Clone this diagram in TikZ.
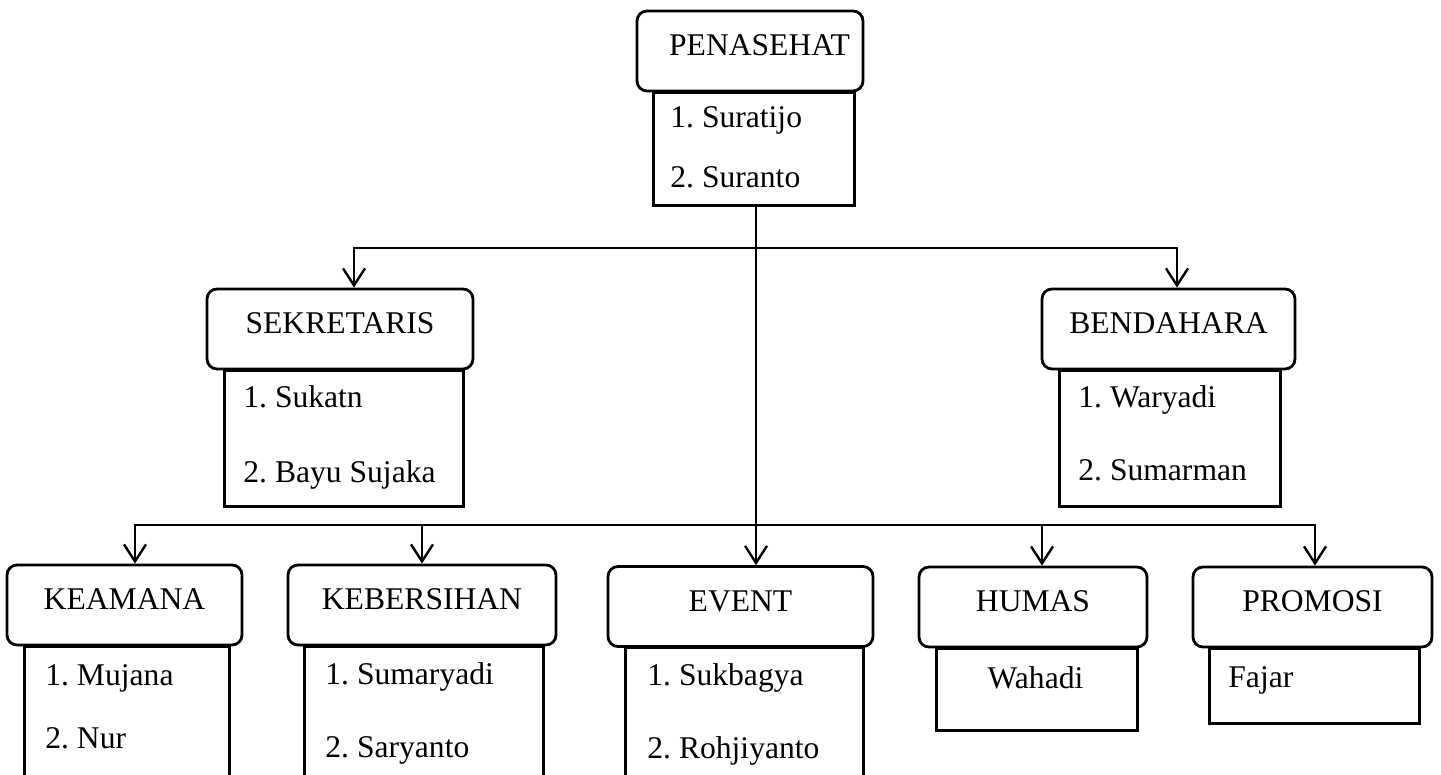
\documentclass[tikz,border=0pt]{standalone}
\usepackage{fontspec}
\setmainfont{Liberation Serif}
\frenchspacing
\usetikzlibrary{arrows.meta,positioning}
\tikzset{
  head/.style={draw,line width=1.4pt,rounded corners=5pt,inner sep=0pt,minimum height=40pt,
    text height=10.5pt,text depth=6pt,font=\fontsize{15.8}{18}\selectfont},
  body/.style={draw,line width=1.4pt,inner sep=0pt,anchor=north west},
  member/.style={anchor=base west,inner sep=0pt,font=\fontsize{15.8}{18}\selectfont},
  link/.style={line width=1.2pt},
  arr/.style={link,-{Straight Barb[length=8.5pt,width=11pt]}}
}

\begin{document}
\begin{tikzpicture}[x=0.5pt,y=-0.5pt]
  \clip (0,0) rectangle (1441,775);
  % bodies
  \node[body,minimum width=100.5pt,minimum height=56.5pt] (penb) at (652,91) {};
  \node[body,minimum width=119.5pt,minimum height=68pt] (sekb) at (223,369) {};
  \node[body,minimum width=110.5pt,minimum height=68pt] (benb) at (1058,369) {};
  \node[body,minimum width=102.5pt,minimum height=80pt] (keab) at (23,645) {};
  \node[body,minimum width=119.5pt,minimum height=80pt] (kebb) at (303,645) {};
  \node[body,minimum width=119pt,minimum height=80pt] (evb) at (624,646) {};
  \node[body,minimum width=100.5pt,minimum height=41pt] (humb) at (935,647) {};
  \node[body,minimum width=105pt,minimum height=37.5pt] (prob) at (1208,647) {};

  % headers
  \node[head,fill=white,inner xsep=6.5pt,text width=100pt,align=flush right] (pen) at (750,51) {PENASEHAT};
  \node[head,fill=white,minimum width=133pt] (sek) at (340,329) {SEKRETARIS};
  \node[head,fill=white,minimum width=126.5pt] (ben) at (1168.5,329) {BENDAHARA};
  \node[head,fill=white,minimum width=117.5pt] (kea) at (124.5,605) {KEAMANA};
  \node[head,fill=white,minimum width=134pt] (keb) at (422,605) {KEBERSIHAN};
  \node[head,fill=white,minimum width=132.5pt] (ev) at (740.5,606.5) {EVENT};
  \node[head,fill=white,minimum width=114pt] (hum) at (1033,607) {HUMAS};
  \node[head,fill=white,minimum width=119.5pt] (pro) at (1312.5,607) {PROMOSI};

  % members
  \node[member] (pen1) at (670,128) {1. Suratijo};
  \node[member] (pen2) at (670,188) {2. Suranto};
  \node[member] (sek1) at (243,408) {1. Sukatn};
  \node[member] (sek2) at (243,482) {2. Bayu Sujaka};
  \node[member] (ben1) at (1078,408) {1. Waryadi};
  \node[member] (ben2) at (1078,480) {2. Sumarman};
  \node[member] (kea1) at (45,685) {1. Mujana};
  \node[member] (kea2) at (45,748) {2. Nur};
  \node[member] (keb1) at (325,684) {1. Sumaryadi};
  \node[member] (keb2) at (325,757) {2. Saryanto};
  \node[member] (ev1) at (647,685) {1. Sukbagya};
  \node[member] (ev2) at (647,758) {2. Rohjiyanto};
  \node[member,anchor=base] (hum1) at (1035.5,688) {Wahadi};
  \node[member] (pro1) at (1228,687) {Fajar};

  % connectors
  \coordinate (j1) at (756,248);
  \coordinate (j2) at (756,525);
  \draw[arr] (j1 |- penb.south) -- (j1 |- ev.north);
  \draw[arr] (j1) -| ([xshift=7pt]sek.north);
  \draw[arr] (j1) -| ([xshift=4.25pt]ben.north);
  \draw[arr] (j2) -| ([xshift=5.25pt]kea.north);
  \draw[arr] (j2) -| (keb.north);
  \draw[arr] (j2) -| ([xshift=4.5pt]hum.north);
  \draw[arr] (j2) -| ([xshift=1.25pt]pro.north);
\end{tikzpicture}
\end{document}
